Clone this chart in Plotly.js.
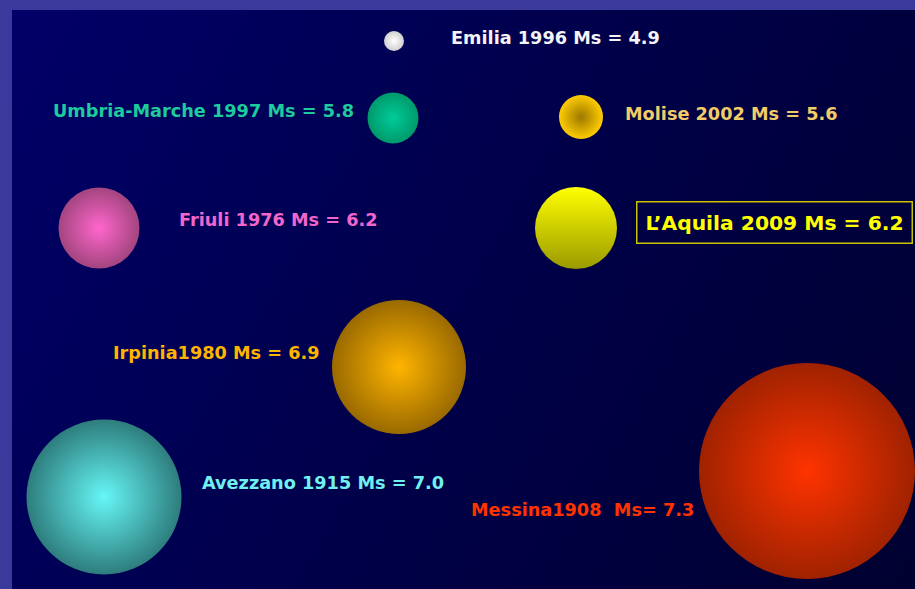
<!DOCTYPE html>
<html>
<head>
<meta charset="utf-8">
<script src="https://cdn.plot.ly/plotly-3.0.1.min.js"></script>
<style>
  html, body { margin: 0; padding: 0; background: #3a3a9c; }
  #wrap { position: relative; width: 915px; height: 589px; background: #3a3a9c; overflow: hidden; }
  #panel { position: absolute; left: 12px; top: 10px; right: 0; bottom: 0;
           background: linear-gradient(120deg, #000068 0%, #00004a 50%, #000030 100%); }
  #chart { position: absolute; left: 0; top: 0; width: 915px; height: 589px; }
</style>
</head>
<body>
<div id="wrap"><div id="panel"></div><div id="chart"></div></div>
<script>
// Data
const quakes     = ["Emilia", "Umbria-Marche", "Molise", "Friuli", "L\u2019Aquila", "Irpinia", "Avezzano", "Messina"];
const years      = [1996, 1997, 2002, 1976, 2009, 1980, 1915, 1908];
const magnitudes = [4.9, 5.8, 5.6, 6.2, 6.2, 6.9, 7.0, 7.3];
const labels     = ["Emilia 1996 Ms = 4.9", "Umbria-Marche 1997 Ms = 5.8", "Molise 2002 Ms = 5.6",
                    "Friuli 1976 Ms = 6.2", "L\u2019Aquila 2009 Ms = 6.2", "Irpinia1980 Ms = 6.9",
                    "Avezzano 1915 Ms = 7.0", "Messina1908  Ms= 7.3"];

// Layout of the slide (bubble centres, diameters, label anchors)
const bubbleX = [394, 393, 581, 99, 576, 399, 104, 807];
const bubbleY = [41, 118, 117, 228, 228, 367, 497, 471];
const bubbleD = [20, 51, 44, 81, 82, 134, 155, 216];
const labelX  = [449, 356, 623, 177, 646, 322, 200, 469];
const labelY  = [38, 111, 114, 220, 222, 353, 483, 510];
const labelAnchor = ["left", "right", "left", "left", "left", "right", "left", "left"];

// Styles
const edgeColors   = ["#cfcfcf", "#00996a", "#ffcc00", "#a3457f", "#ffff00", "#9a6a00", "#2e7d7d", "#a02200"];
const centerColors = ["#ffffff", "#00cc99", "#9c7800", "#ff66cc", "#9a9a00", "#ffb400", "#66f6f6", "#ff3300"];
const gradTypes    = ["radial", "radial", "radial", "radial", "vertical", "radial", "radial", "radial"];
const textColors   = ["#f4f4f4", "#1ecb9c", "#f2cc66", "#f266cc", "#ffff00", "#ffb400", "#70f0f0", "#ff3300"];
const textSizes    = [17.7, 17.7, 17.7, 17.7, 20.3, 17.7, 17.7, 17.7];

const traces = quakes.map((q, i) => ({
  type: "scatter",
  mode: "markers",
  x: [bubbleX[i]],
  y: [bubbleY[i]],
  name: q + " " + years[i] + " Ms=" + magnitudes[i],
  marker: {
    size: bubbleD[i],
    color: edgeColors[i],
    line: { width: 0 },
    gradient: { type: gradTypes[i], color: centerColors[i] }
  },
  hoverinfo: "name"
}));

const annotations = labels.map((t, i) => {
  const a = {
    x: labelX[i], y: labelY[i], xref: "x", yref: "y",
    text: "<b>" + t + "</b>",
    showarrow: false,
    xanchor: labelAnchor[i], yanchor: "middle",
    font: { family: "DejaVu Sans, sans-serif", size: textSizes[i], color: textColors[i] }
  };
  if (i === 4) {
    a.bordercolor = "#c8c400";
    a.borderwidth = 1.5;
    a.borderpad = 8;
    a.x = labelX[i] - 10;
  }
  return a;
});

const layout = {
  width: 915, height: 589,
  margin: { l: 0, r: 0, t: 0, b: 0 },
  paper_bgcolor: "rgba(0,0,0,0)",
  plot_bgcolor: "rgba(0,0,0,0)",
  showlegend: false,
  xaxis: { range: [0, 915], visible: false, fixedrange: true },
  yaxis: { range: [589, 0], visible: false, fixedrange: true },
  annotations: annotations
};

Plotly.newPlot("chart", traces, layout, { displayModeBar: false, staticPlot: true });
</script>
</body>
</html>
